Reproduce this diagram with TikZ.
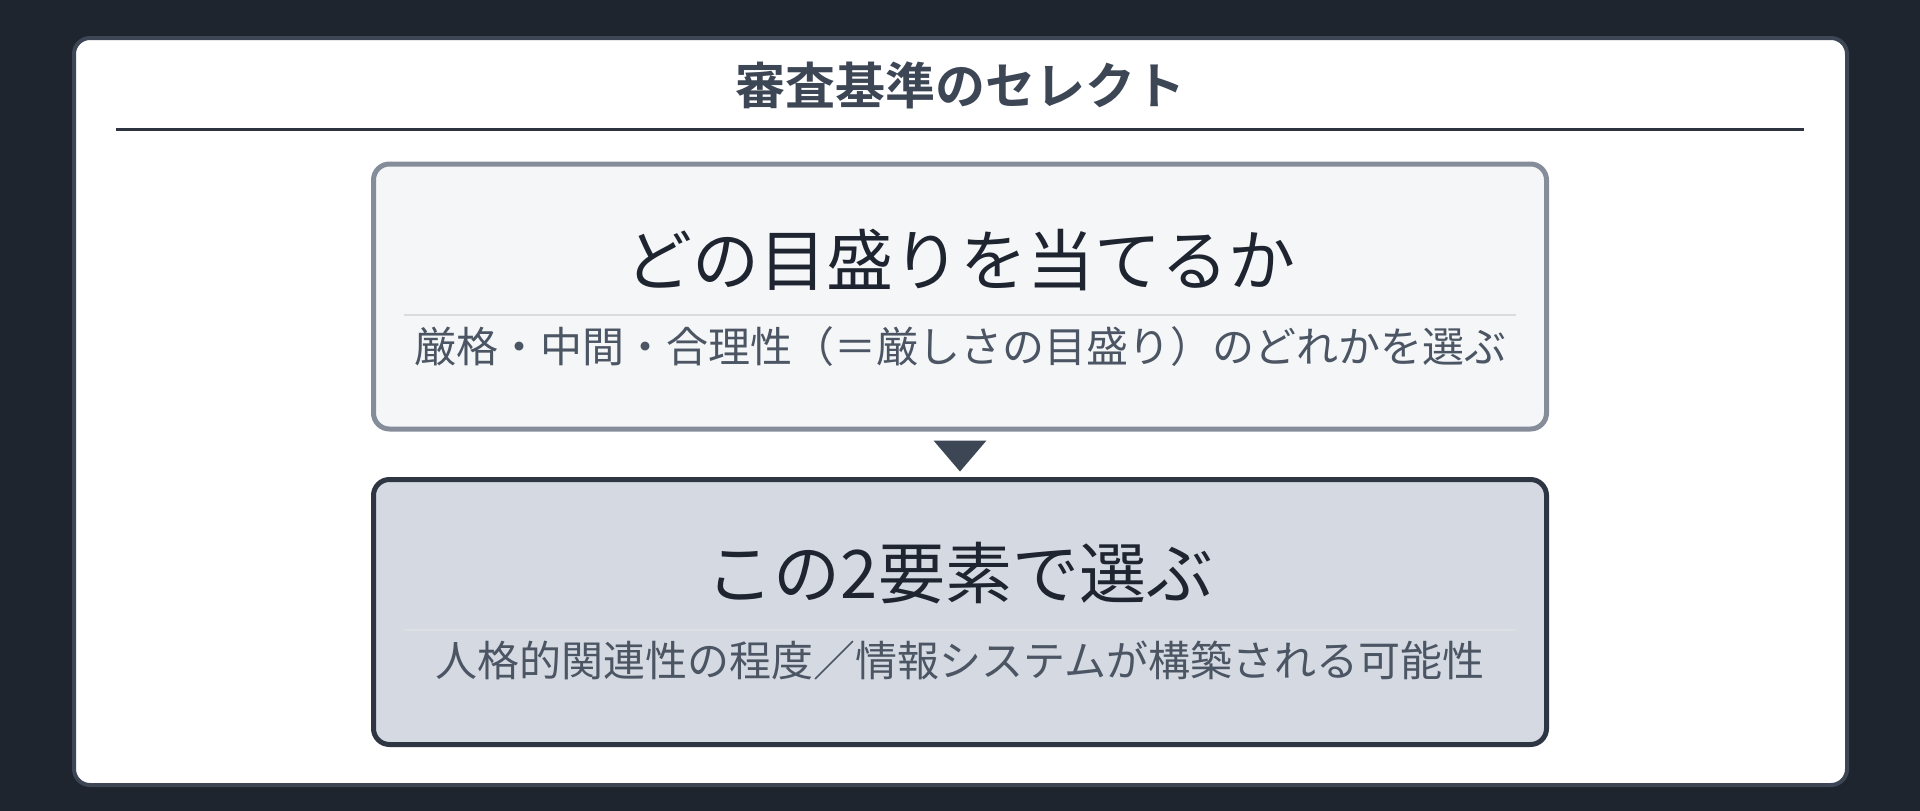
\documentclass[tikz,border=0pt]{standalone}
\usepackage{fontspec}
\setmainfont{Noto Sans CJK JP}[BoldFont={Noto Sans CJK JP Bold}]
\usetikzlibrary{calc}
\definecolor{bgdark}{HTML}{1E252F}
\definecolor{cardborder}{HTML}{3D4654}
\definecolor{titlecol}{HTML}{3D4654}
\definecolor{rulecol}{HTML}{2D3440}
\definecolor{boxafill}{HTML}{F5F6F8}
\definecolor{boxaborder}{HTML}{858D9A}
\definecolor{boxbfill}{HTML}{D5DAE2}
\definecolor{boxbborder}{HTML}{2E3643}
\definecolor{maintext}{HTML}{1F2530}
\definecolor{subtext}{HTML}{4B5563}
\definecolor{sepa}{HTML}{D9DBDE}
\definecolor{sepb}{HTML}{DDE0E3}
\definecolor{arrowcol}{HTML}{3D4654}
\tikzset{
  x=1pt, y=-1pt,
  cardbox/.style={draw=cardborder, line width=4pt, fill=white, rounded corners=16pt,
    minimum width=1773pt, minimum height=747pt, inner sep=0pt},
  stepbox/.style={line width=5pt, rounded corners=16pt,
    minimum width=1173pt, minimum height=265pt, inner sep=0pt},
  titletext/.style={text=titlecol, font=\fontsize{50pt}{60pt}\selectfont\bfseries, inner sep=0pt},
  bigtext/.style={text=maintext, font=\fontsize{67pt}{80pt}\selectfont, inner sep=0pt},
  smalltext/.style={text=subtext, font=\fontsize{42pt}{50pt}\selectfont, inner sep=0pt},
}
\begin{document}
\begin{tikzpicture}
\useasboundingbox (0,0) rectangle (1920,811);
\fill[bgdark] (0,0) rectangle (1920,811);
\node[cardbox] (card) at (960.5,411.5) {};
\node[titletext] (title) at (960,85) {審査基準のセレクト};
\coordinate (ruleL) at (116,129);
\coordinate (ruleR) at (1804,129);
\draw[rulecol, line width=3pt] (ruleL) -- (ruleR);

\node[stepbox, draw=boxaborder, fill=boxafill] (boxa) at (960,296.5) {};
\node[bigtext] (boxamain) at (960,260) {どの目盛りを当てるか};
\coordinate (sepaL) at (404,315);
\coordinate (sepaR) at (1516,315);
\draw[sepa, line width=2.5pt] (sepaL) -- (sepaR);
\node[smalltext] (boxasub) at (960,347) {厳格・中間・合理性（＝厳しさの目盛り）のどれかを選ぶ};

\node[stepbox, draw=boxbborder, fill=boxbfill] (boxb) at (960,612) {};
\node[bigtext] (boxbmain) at (960,573) {この2要素で選ぶ};
\coordinate (sepbL) at (404,630);
\coordinate (sepbR) at (1516,630);
\draw[sepb, line width=2pt] (sepbL) -- (sepbR);
\node[smalltext] (boxbsub) at (960,661) {人格的関連性の程度／情報システムが構築される可能性};

\fill[arrowcol] ($(boxa.south)+(-26.5,9)$) -- ($(boxa.south)+(26.5,9)$) -- ($(boxa.south)+(0,40)$) -- cycle;
\end{tikzpicture}
\end{document}
